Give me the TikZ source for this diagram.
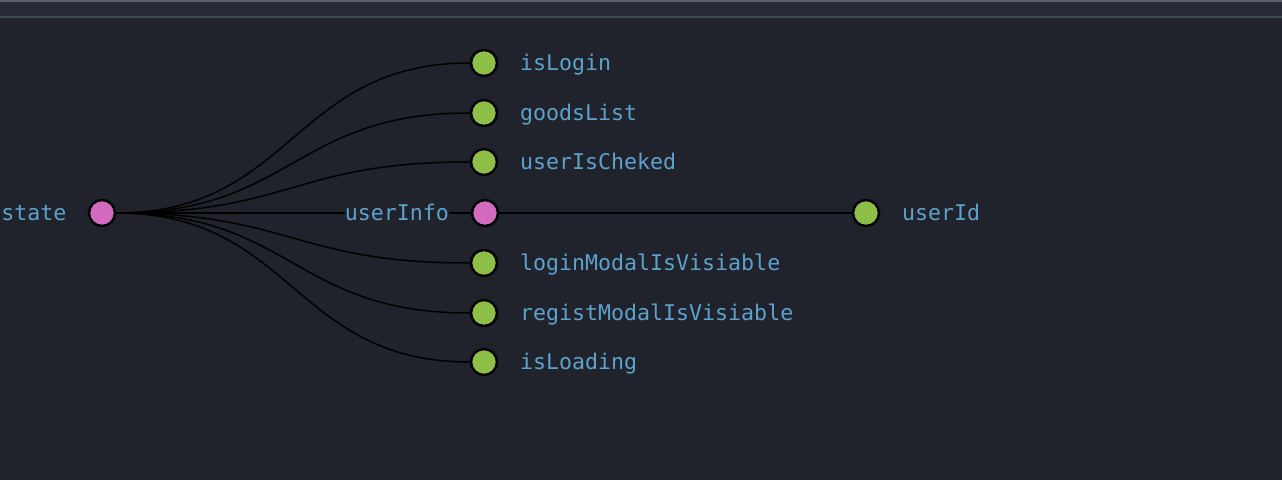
\documentclass[tikz,border=0pt]{standalone}
\usepackage{fontspec}
\setmonofont{DejaVu Sans Mono}
\usetikzlibrary{positioning}
\definecolor{bgdark}{HTML}{20232B}
\definecolor{barbg}{HTML}{272B36}
\definecolor{bartop}{HTML}{5C5F6B}
\definecolor{barline}{HTML}{3D4852}
\definecolor{keyblue}{HTML}{5DA2CC}
\definecolor{leafgreen}{HTML}{8DBE45}
\definecolor{branchpink}{HTML}{D26BBF}
\tikzset{
  leaf/.style={circle,draw=black,line width=1.4pt,fill=leafgreen,minimum size=0.52cm,inner sep=0pt},
  branch/.style={leaf,fill=branchpink},
  keylabel/.style={font=\ttfamily\fontsize{12.3}{14}\selectfont,text=keyblue,fill=bgdark,inner sep=0pt,text height=9pt,text depth=0pt},
  link/.style={black,line width=0.85pt}
}
\begin{document}
\begin{tikzpicture}[x=0.02cm,y=-0.02cm]
  % background and top bar
  \fill[bgdark] (0,0) rectangle (1282,480);
  \fill[barbg] (0,0) rectangle (1282,16);
  \fill[bartop] (0,0) rectangle (1282,2);
  \fill[barline] (0,16) rectangle (1282,17.5);
  \useasboundingbox (0,0) rectangle (1282,480);

  % root
  \node[branch] (state) at (102,213) {};
  \node[keylabel,left=0.42cm of state] (state-label) {state};

  % nested object
  \node[branch] (userInfo) at (485,213) {};
  \node[leaf] (userId) at (866,213) {};
  \node[keylabel,right=0.43cm of userId] (userId-label) {userId};
  \draw[link] (state) -- (userInfo);
  \draw[link] (userInfo) -- (userId);
  \node[keylabel,left=0.43cm of userInfo] (userInfo-label) {userInfo};

  % leaves of state
  \foreach \name/\y in {isLogin/63,goodsList/113,userIsCheked/162,loginModalIsVisiable/263,registModalIsVisiable/313,isLoading/362}{
    \node[leaf] (\name) at (484,\y) {};
    \node[keylabel,right=0.43cm of \name] (\name-label) {\name};
    \draw[link] (state.east) .. controls (293,213) and (293,\y) .. (\name.west);
  }
\end{tikzpicture}
\end{document}
